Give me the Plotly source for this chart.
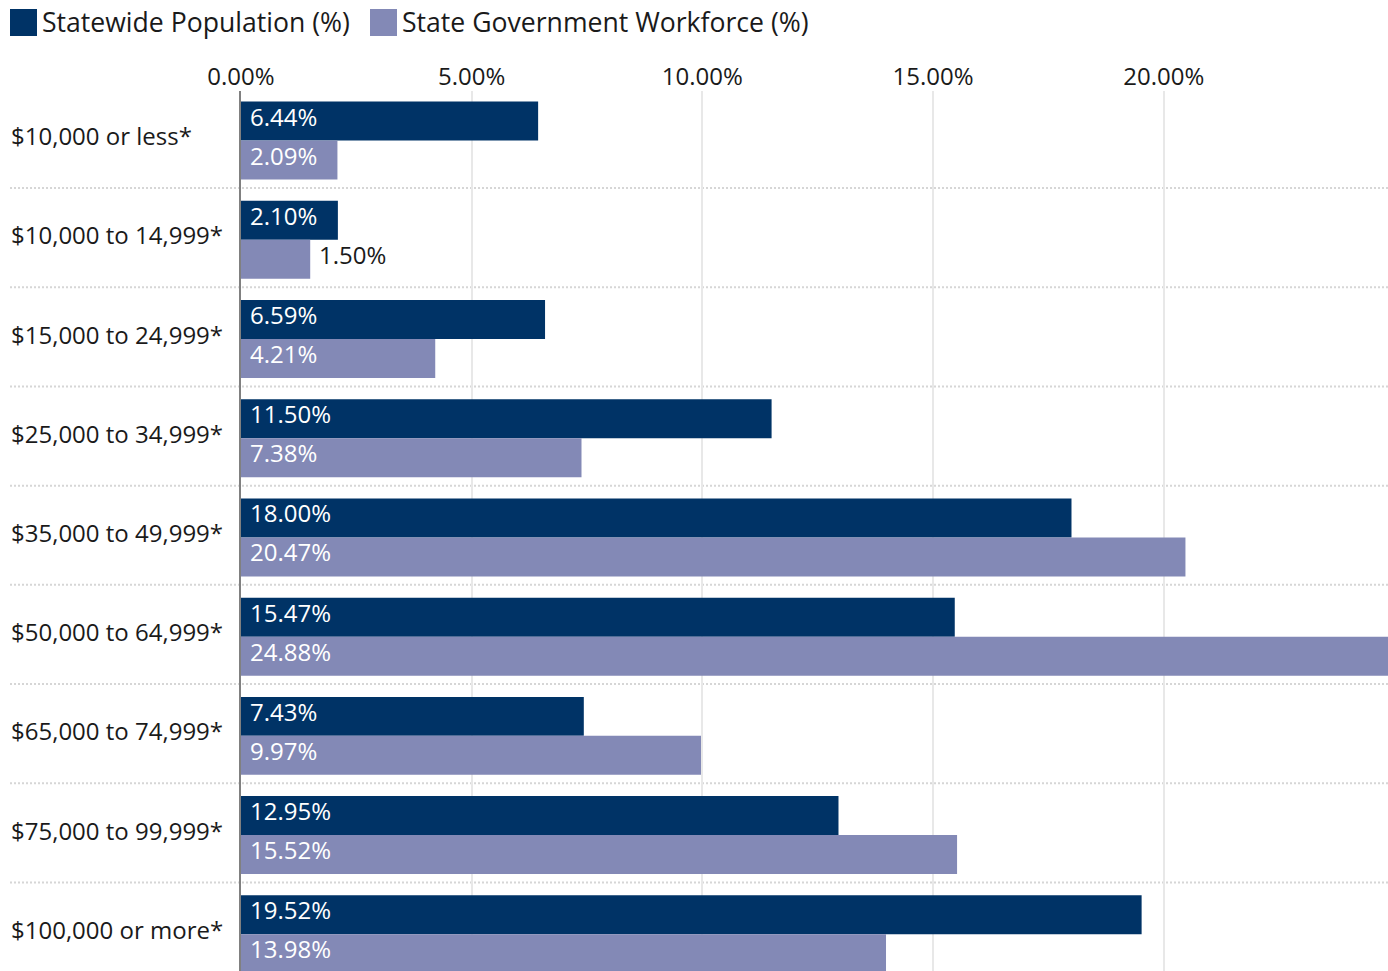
import plotly.graph_objects as go

# Household income brackets and the share of each group (%)
categories = [
    "$10,000 or less*",
    "$10,000 to 14,999*",
    "$15,000 to 24,999*",
    "$25,000 to 34,999*",
    "$35,000 to 49,999*",
    "$50,000 to 64,999*",
    "$65,000 to 74,999*",
    "$75,000 to 99,999*",
    "$100,000 or more*",
]
population = [6.44, 2.10, 6.59, 11.50, 18.00, 15.47, 7.43, 12.95, 19.52]
workforce = [2.09, 1.50, 4.21, 7.38, 20.47, 24.88, 9.97, 15.52, 13.98]
series_names = ["Statewide Population (%)", "State Government Workforce (%)"]
x_ticks = [0, 5, 10, 15, 20]
x_tick_labels = [f"{t:.2f}%" for t in x_ticks]

NAVY = "#003366"
LAVENDER = "#8389b6"
TEXT = "#1a1a1a"
FONT = "Open Sans"

W, H = 1388, 971
ML, MR, MT, MB = 241, 0, 91, 0
PW, PH = W - ML - MR, H - MT - MB
X_RANGE = [0, 24.86]
Y_RANGE = [8.37, -0.5]  # reversed: first bracket at top
BAR_W = 0.393


def px_x(px):
    return (px - ML) / PW


def px_y(py):
    return (H - MB - py) / PH


def data_y(v):
    return (Y_RANGE[0] - v) / (Y_RANGE[0] - Y_RANGE[1])


idx = list(range(len(categories)))
fig = go.Figure()
fig.add_trace(go.Bar(
    y=idx, x=population, orientation="h", name=series_names[0],
    marker=dict(color=NAVY, line=dict(width=0)),
    width=BAR_W, offset=-BAR_W, hoverinfo="x+name",
))
fig.add_trace(go.Bar(
    y=idx, x=workforce, orientation="h", name=series_names[1],
    marker=dict(color=LAVENDER, line=dict(width=0)),
    width=BAR_W, offset=0, hoverinfo="x+name",
))

annotations = []
shapes = []

# value labels: inside at bar start, or just past the end when the bar is too short
for series, centre_off in ((population, -BAR_W / 2), (workforce, BAR_W / 2)):
    for i, v in enumerate(series):
        inside = v >= 1.8
        annotations.append(dict(
            x=0 if inside else v, y=i + centre_off, xref="x", yref="y",
            text=f"{v:.2f}%", showarrow=False, xanchor="left", yanchor="middle",
            xshift=7, yshift=5,
            font=dict(family=FONT, size=24, color="white" if inside else TEXT),
        ))

# category labels, left-aligned at the page edge
for i, c in enumerate(categories):
    annotations.append(dict(
        x=px_x(9), y=i, xref="paper", yref="y", text=c, showarrow=False,
        xanchor="left", yanchor="middle", yshift=5,
        font=dict(family=FONT, size=24, color=TEXT),
    ))

# dotted separators between brackets
for i in range(len(categories) - 1):
    yp = data_y(i + 0.478)
    shapes.append(dict(
        type="line", xref="paper", yref="paper", x0=px_x(10), x1=1, y0=yp, y1=yp,
        line=dict(color="#d6d6d6", width=2, dash="2px,2px"), layer="below",
    ))

# legend swatches and labels
legend_items = [(10, 40, NAVY, series_names[0]), (370, 400, LAVENDER, series_names[1])]
for sx, tx, col, name in legend_items:
    shapes.append(dict(
        type="rect", xref="paper", yref="paper",
        x0=px_x(sx), x1=px_x(sx + 27), y0=px_y(36), y1=px_y(9),
        fillcolor=col, line=dict(width=0),
    ))
    annotations.append(dict(
        x=px_x(tx), y=px_y(22), xref="paper", yref="paper", text=name,
        showarrow=False, xanchor="left", yanchor="middle",
        font=dict(family=FONT, size=26.6, color=TEXT),
    ))

fig.update_layout(
    width=W, height=H,
    margin=dict(l=ML, r=MR, t=MT, b=MB, pad=0),
    paper_bgcolor="white", plot_bgcolor="white",
    barmode="overlay", showlegend=False,
    font=dict(family=FONT, color=TEXT),
    annotations=annotations, shapes=shapes,
    xaxis=dict(
        range=X_RANGE, side="top", tickmode="array",
        tickvals=x_ticks, ticktext=x_tick_labels,
        tickfont=dict(family=FONT, size=24, color=TEXT),
        showgrid=True, gridcolor="#e8e8e8", gridwidth=2,
        zeroline=False, showline=False, ticks="",
    ),
    yaxis=dict(
        range=Y_RANGE, showticklabels=False, showgrid=False, zeroline=False,
        showline=True, linecolor="#808080", linewidth=2, ticks="",
    ),
)

fig.write_html("out.html")
